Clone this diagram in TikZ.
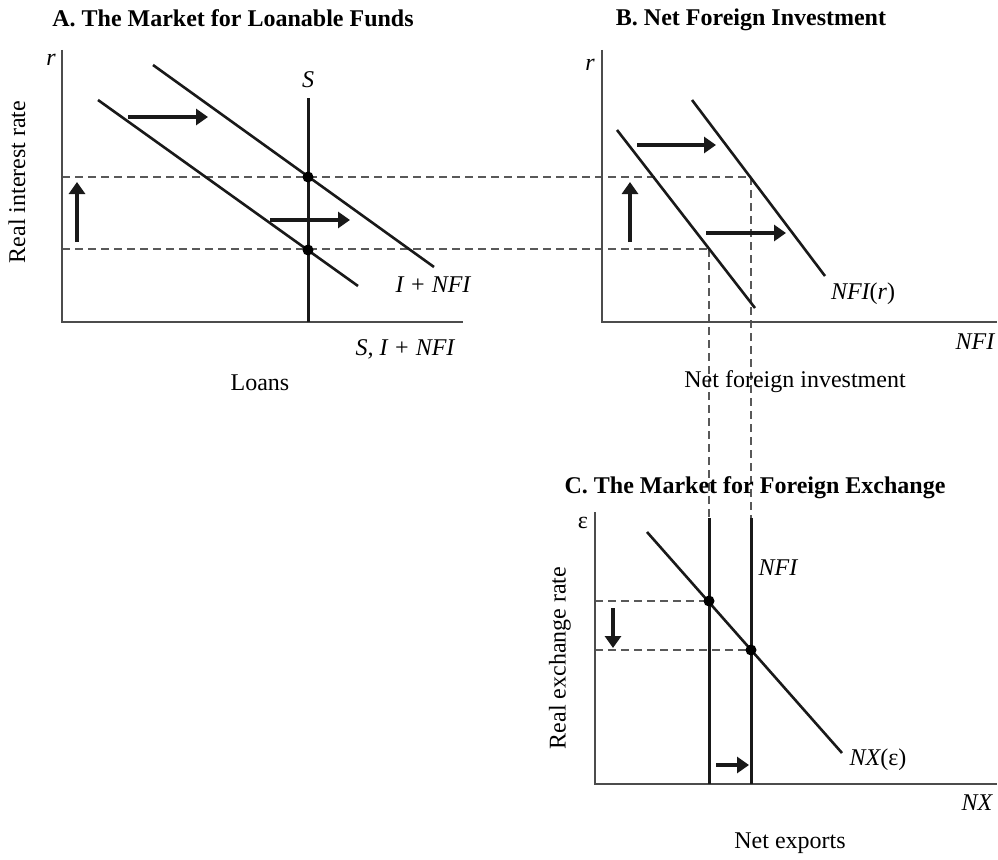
\documentclass[tikz,border=0pt]{standalone}
\usepackage{fontspec}
\setmainfont{Liberation Serif}
\usetikzlibrary{arrows.meta}
\begin{document}
\begin{tikzpicture}[x=1pt,y=-1pt,
 axis/.style={line width=1.7pt, draw=black!70},
 curve/.style={line width=2.6pt, draw=black!90},
 vline/.style={line width=3pt, draw=black!90},
 guide/.style={line width=1.4pt, draw=black!65, dash pattern=on 8pt off 5pt},
 shiftarrow/.style={line width=3.2pt, draw=black!90, -{Triangle[length=12pt,width=16pt]}},
 dot/.style={circle, fill=black, inner sep=0pt, minimum size=11pt},
 lbl/.style={font=\fontsize{24}{27}\selectfont, inner sep=0pt},
 ilbl/.style={font=\fontsize{24}{27}\selectfont\itshape, inner sep=0pt},
 ttl/.style={font=\fontsize{24}{27}\selectfont\bfseries, inner sep=0pt},
]
\useasboundingbox (0,0) rectangle (998,859);

% ---------- Panel A ----------
\coordinate (Ay) at (62,50); \coordinate (Ao) at (62,322); \coordinate (Ax) at (463,322);
\coordinate (Stop) at (308,98); \coordinate (Sbot) at (308,322);
\coordinate (A1s) at (153,65); \coordinate (A1e) at (434,267);
\coordinate (A0s) at (98,100); \coordinate (A0e) at (358,286);
\coordinate (rHi) at (62,177); \coordinate (rLo) at (62,249);
\coordinate (bHi) at (751,177); \coordinate (bLo) at (709,249);

% ---------- Panel B ----------
\coordinate (By) at (602,50); \coordinate (Bo) at (602,322); \coordinate (Bx) at (997,322);
\coordinate (B0s) at (617,130); \coordinate (B0e) at (755,308);
\coordinate (B1s) at (692,100); \coordinate (B1e) at (825,276);

% ---------- Panel C ----------
\coordinate (Cy) at (595,512); \coordinate (Co) at (595,784); \coordinate (Cx) at (997,784);
\coordinate (V0t) at (709,518); \coordinate (V0b) at (709,784);
\coordinate (V1t) at (751,518); \coordinate (V1b) at (751,784);
\coordinate (NXs) at (647,532); \coordinate (NXe) at (842,753);
\coordinate (eHi) at (595,601); \coordinate (eLo) at (595,650);

% guides
\draw[guide] (rHi) -- (bHi);
\draw[guide] (rLo) -- (bLo);
\draw[guide] (bHi) -- (V1t);
\draw[guide] (bLo) -- (V0t);
\draw[guide] (eHi) -- (709,601);
\draw[guide] (eLo) -- (751,650);

% axes
\draw[axis] (Ay) -- (Ao) -- (Ax);
\draw[axis] (By) -- (Bo) -- (Bx);
\draw[axis] (Cy) -- (Co) -- (Cx);

% curves
\draw[vline] (Stop) -- (Sbot);
\draw[curve] (A1s) -- (A1e);
\draw[curve] (A0s) -- (A0e);
\draw[curve] (B0s) -- (B0e);
\draw[curve] (B1s) -- (B1e);
\draw[vline] (V0t) -- (V0b);
\draw[vline] (V1t) -- (V1b);
\draw[curve] (NXs) -- (NXe);

% dots
\node[dot] (dA1) at (308,177) {};
\node[dot] (dA0) at (308,250) {};
\node[dot] (dC0) at (709,601) {};
\node[dot] (dC1) at (751,650) {};

% shift arrows
\coordinate (a1s) at (128,117); \coordinate (a1e) at (208,117);
\coordinate (a2s) at (270,220); \coordinate (a2e) at (350,220);
\coordinate (a3s) at (77,242); \coordinate (a3e) at (77,182);
\coordinate (b1s) at (637,145); \coordinate (b1e) at (716,145);
\coordinate (b2s) at (706,233); \coordinate (b2e) at (786,233);
\coordinate (b3s) at (630,242); \coordinate (b3e) at (630,182);
\coordinate (c1s) at (613,608); \coordinate (c1e) at (613,648);
\coordinate (c2s) at (716,765); \coordinate (c2e) at (749,765);
\draw[shiftarrow] (a1s) -- (a1e);
\draw[shiftarrow] (a2s) -- (a2e);
\draw[shiftarrow] (a3s) -- (a3e);
\draw[shiftarrow] (b1s) -- (b1e);
\draw[shiftarrow] (b2s) -- (b2e);
\draw[shiftarrow] (b3s) -- (b3e);
\draw[shiftarrow] (c1s) -- (c1e);
\draw[shiftarrow] (c2s) -- (c2e);

% labels panel A
\node[ttl] (tA) at (233,18) {A. The Market for Loanable Funds};
\node[ilbl] (rA) at (51,60) {r};
\node[ilbl] (lS) at (308,80) {S};
\node[ilbl] (lINFI) at (433,285) {I + NFI};
\node[ilbl] (lxA) at (405,349) {S, I + NFI};
\node[lbl] (loans) at (260,383) {Loans};
\node[lbl, rotate=90] (yA) at (17,182) {Real interest rate};

% labels panel B
\node[ttl] (tB) at (751,20) {B. Net Foreign Investment};
\node[ilbl] (rB) at (590,65) {r};
\node[lbl] (lNFIr) at (863,294) {\itshape NFI\upshape(\itshape r\upshape)};
\node[ilbl] (lxB) at (975,342) {NFI};
\node[lbl] (nfi) at (795,382) {Net foreign investment};

% labels panel C
\node[ttl] (tC) at (755,488) {C. The Market for Foreign Exchange};
\node[lbl] (eC) at (583,523) {ε};
\node[ilbl] (lNFI) at (778,568) {NFI};
\node[lbl] (lNX) at (878,760) {\itshape NX\upshape(ε)};
\node[ilbl] (lxC) at (977,803) {NX};
\node[lbl] (nx) at (790,843) {Net exports};
\node[lbl, rotate=90] (yC) at (560,658) {Real exchange rate};
\end{tikzpicture}
\end{document}
